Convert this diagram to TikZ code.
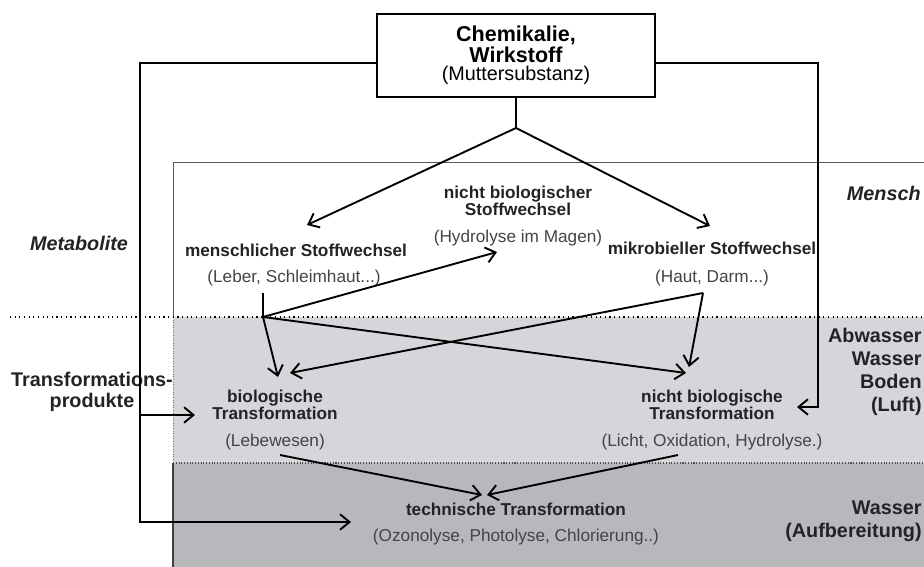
\documentclass[tikz,border=0pt]{standalone}
\usepackage{fontspec}
\setmainfont{Liberation Sans}
\usetikzlibrary{arrows.meta}
\definecolor{zonelight}{RGB}{213,214,217}
\definecolor{zonedark}{RGB}{183,184,188}
\definecolor{inkgray}{RGB}{35,35,38}

\begin{document}
\begin{tikzpicture}[
    x=0.581pt, y=-0.581pt,
    flow/.style={-{Straight Barb[length=5.5pt,width=9pt]}, line width=1.1pt},
    link/.style={line width=1.1pt},
    titlebox/.style={rectangle, draw, line width=0.8pt, minimum width=161.5pt, minimum height=48.2pt, align=center, inner sep=0pt, font=\fontsize{11.5}{10.8}\selectfont},
    head/.style={font=\bfseries\fontsize{10}{9.8}\selectfont, align=center, text=inkgray, inner sep=0pt},
    note/.style={font=\fontsize{10}{12}\selectfont, text=inkgray!85, inner sep=0pt},
    side/.style={font=\bfseries\fontsize{11.5}{13.4}\selectfont, align=right, text=inkgray, inner sep=0pt},
    sideit/.style={font=\bfseries\itshape\fontsize{11.5}{13.4}\selectfont, text=inkgray, inner sep=0pt}
]
\useasboundingbox (0,0) rectangle (924,567);

% Zones - Mensch, Umwelt, Aufbereitung
\fill[zonelight] (173,317) rectangle (930,463);
\fill[zonedark] (173,463) rectangle (930,570);
\draw[black!65, line width=0.5pt] (930,162) -- (173,162) -- (173,317);
\draw[black!55, line width=0.5pt, densely dotted] (173,317) -- (173,463);
\draw[black!75, line width=0.6pt] (173,463) -- (173,570);
\draw[black!70, line width=0.6pt, densely dotted] (173,463) -- (930,463);
\draw[line width=0.7pt, dotted] (10,317) -- (930,317);

% Source
\node[titlebox] (src) at (516,55.5) {\textbf{\fontsize{12.5}{10.8}\selectfont Chemikalie,}\\\textbf{\fontsize{12.5}{10.8}\selectfont Wirkstoff}\\(Muttersubstanz)};

% Metabolites
\node[head] (nbstoff) at (518,201) {nicht biologischer\\Stoffwechsel};
\node[note] (nbstoffnote) at (518,238) {(Hydrolyse im Magen)};
\node[head] (menschl) at (296,250) {menschlicher Stoffwechsel};
\node[note] (menschlnote) at (294,278) {(Leber, Schleimhaut...)};
\node[head] (mikro) at (712,248) {mikrobieller Stoffwechsel};
\node[note] (mikronote) at (712,278) {(Haut, Darm...)};

% Transformation products
\node[head] (biotrans) at (275,405) {biologische\\Transformation};
\node[note] (biotransnote) at (275,442) {(Lebewesen)};
\node[head] (abiotrans) at (712,405) {nicht biologische\\Transformation};
\node[note] (abiotransnote) at (712,442) {(Licht, Oxidation, Hydrolyse.)};
\node[head] (techtrans) at (516,509) {technische Transformation};
\node[note] (techtransnote) at (516,537) {(Ozonolyse, Photolyse, Chlorierung..)};

% Side labels
\node[sideit] (metab) at (79,243) {Metabolite};
\node[side, align=center, font=\bfseries\fontsize{11.5}{11.8}\selectfont] (transprod) at (92,392) {Transformations-\\produkte};
\node[sideit, anchor=east] (mensch) at (921,193) {Mensch};
\node[side, anchor=east] (media) at (922,372) {Abwasser\\Wasser\\Boden\\(Luft)};
\node[side, anchor=east] (treat) at (922,521) {Wasser\\(Aufbereitung)};

% Junctions and arrow ends
\coordinate (fork) at (516,128);
\coordinate (leberstem) at (263,293);
\coordinate (leberfoot) at (263,317);
\coordinate (hautfoot) at (703,293);
\coordinate (toMenschl) at (307,225);
\coordinate (toMikro) at (710,226);
\coordinate (toMagen) at (497,252);
\coordinate (toBioA) at (278,377);
\coordinate (toBioB) at (290,373);
\coordinate (toAbioA) at (686,373);
\coordinate (toAbioB) at (689,367);
\coordinate (bioout) at (280,455);
\coordinate (abioout) at (678,455);
\coordinate (toTechA) at (482,495);
\coordinate (toTechB) at (487,495);
\coordinate (lefttop) at (140,63);
\coordinate (leftbot) at (140,522);
\coordinate (toBioSide) at (195,415);
\coordinate (toTechSide) at (351,522);
\coordinate (righttop) at (818,63);
\coordinate (toAbioSide) at (797,407);

% Arrows
\draw[link] (src.south) -- (fork);
\draw[flow] (fork) -- (toMenschl);
\draw[flow] (fork) -- (toMikro);
\draw[link] (leberstem) -- (leberfoot);
\draw[flow] (leberfoot) -- (toMagen);
\draw[flow] (leberfoot) -- (toBioA);
\draw[flow] (leberfoot) -- (toAbioA);
\draw[flow] (hautfoot) -- (toBioB);
\draw[flow] (hautfoot) -- (toAbioB);
\draw[flow] (bioout) -- (toTechA);
\draw[flow] (abioout) -- (toTechB);

% Direct routes from the source
\draw[flow] (src.west |- lefttop) -- (lefttop) -- (leftbot) -- (toTechSide);
\draw[flow] (lefttop |- toBioSide) -- (toBioSide);
\draw[flow] (src.east |- righttop) -- (righttop) -- (righttop |- toAbioSide) -- (toAbioSide);

\end{tikzpicture}
\end{document}
